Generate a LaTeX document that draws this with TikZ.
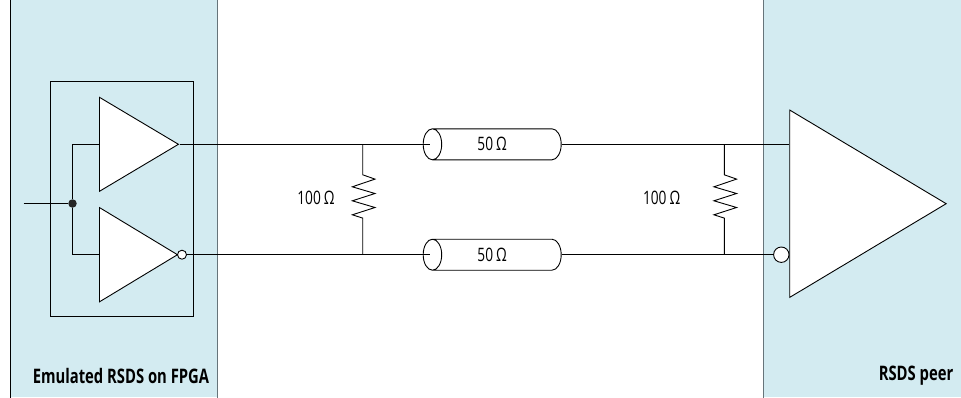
\documentclass[tikz,border=0pt]{standalone}
\usepackage{fontspec}
\setmainfont[FakeStretch=0.74]{Open Sans}
\usetikzlibrary{positioning, calc, shapes.geometric}
\definecolor{panelblue}{HTML}{D3EBF1}
\definecolor{edgegray}{HTML}{66747A}
\tikzset{
	panel/.style = {fill = panelblue, inner sep = 0, anchor = north west},
	buffer/.style = {isosceles triangle, isosceles triangle stretches, draw, fill = white, inner sep = 0, anchor = lower side},
	bubble/.style = {circle, draw, fill = white, inner sep = 0},
	cable/.style = {cylinder, draw, fill = white, shape border rotate = 180, aspect = 1, inner sep = 0, minimum width = 31, minimum height = 138, anchor = shape center, font = \fontsize{18.5}{18.5}\selectfont},
	ohms/.style = {font = \fontsize{18.5}{18.5}\selectfont},
	caption/.style = {font = \fontsize{20}{20}\selectfont\bfseries}
}
\newcommand{\resistor}[2]{
	\draw (#1) -- ++(0,30.5) -- ++(12.3,4.3) -- ++(-22.7,7.7) -- ++(22.7,6.7) -- ++(-22.7,7.3) -- ++(22.7,6.7) -- ++(-22.7,7.3) -- ++(10.4,3.3) -- (#2);
}
\begin{document}
\begin{tikzpicture}[x = 1pt, y = -1pt, line width = 0.9pt]
	\useasboundingbox (0,0) rectangle (961,397);
	\node[panel, minimum width = 206.5, minimum height = 397] (fpga) at (10.5,0) {};
	\node[panel, minimum width = 197.7, minimum height = 397] (peer) at (763.3,0) {};
	\draw (fpga.north west) -- (fpga.south west);
	\draw[edgegray] (fpga.north east) -- (fpga.south east);
	\draw[edgegray] (peer.north west) -- (peer.south west);
	\node[draw, inner sep = 0, anchor = north west, minimum width = 143.3, minimum height = 234.4] (chip) at (49.7,81.3) {};

	\node[buffer, minimum width = 94, minimum height = 79] (bufp) at (99,144.3) {};
	\node[buffer, minimum width = 94.3, minimum height = 78] (bufn) at (99,254.7) {};
	\node[bubble, minimum size = 9] (bubn) at (182,254.7) {};
	\node[buffer, minimum width = 187.3, minimum height = 156.4] (rx) at (789.3,203.7) {};
	\node[bubble, minimum size = 15.4] (bubrx) at (781.3,254.7) {};

	\node[circle, fill = black!85, inner sep = 0, minimum size = 8.5] (split) at (72.5,203.5) {};
	\coordinate (input) at (23.5,203.5);
	\draw (input) -- (split);
	\draw (bufp.lower side) -| (split);
	\draw (bufn.lower side) -| (split);

	\node[cable] (cablep) at (492.2,144.3) {\strut};
	\node[cable] (cablen) at (492.2,254.7) {\strut};
	\node[ohms] (labcablep) at (cablep.shape center) {50\,Ω};
	\node[ohms] (labcablen) at (cablen.shape center) {50\,Ω};
	\coordinate (facep) at ($(cablep.top)+(7.5,0)$);
	\coordinate (facen) at ($(cablen.top)+(7.5,0)$);

	\draw (bufp.apex) -- (facep);
	\draw (bubn) -- (facen);
	\draw (cablep.bottom) -- (rx.lower side |- cablep.bottom);
	\draw (cablen.bottom) -- (bubrx);

	\coordinate (rnear) at (362.7,144.3);
	\coordinate (rnearb) at (362.7,254.7);
	\coordinate (rfar) at (724.3,144.3);
	\coordinate (rfarb) at (724.3,254.7);
	\resistor{rnear}{rnearb}
	\resistor{rfar}{rfarb}

	\node[ohms] (labnear) at (316,198) {100\,Ω};
	\node[ohms] (labfar) at (661.7,198) {100\,Ω};
	\node[caption, anchor = west] (capfpga) at (29,376) {Emulated RSDS on FPGA};
	\node[caption, anchor = east] (cappeer) at (957,376) {RSDS peer};
\end{tikzpicture}
\end{document}
